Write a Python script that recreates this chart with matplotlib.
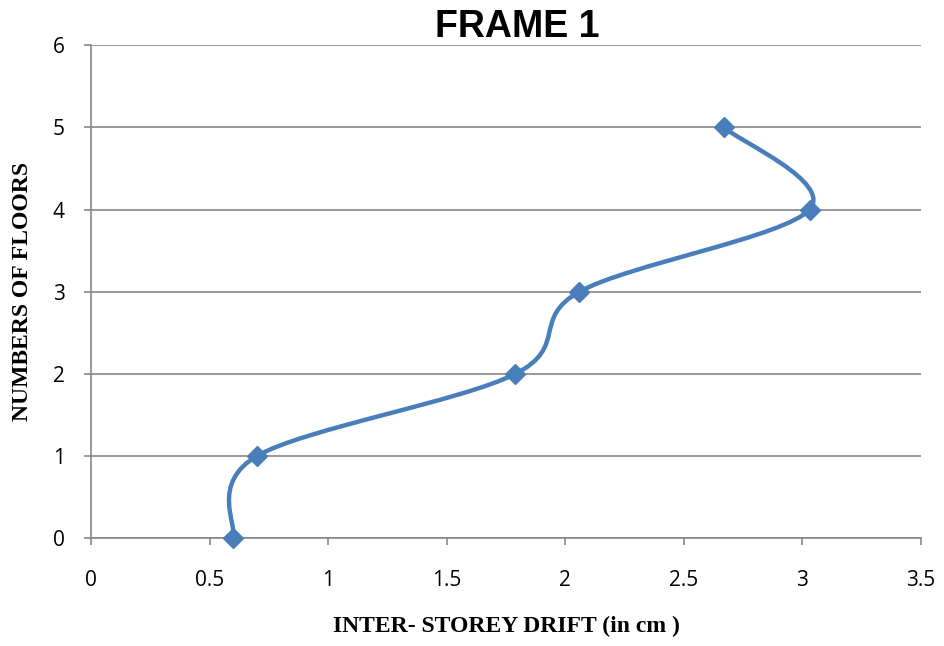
import matplotlib.pyplot as plt
from matplotlib.path import Path
from matplotlib.patches import PathPatch
import numpy as np

# inter-storey drift per floor
drift = [0.6, 0.7, 1.79, 2.06, 3.03, 2.67]
floors = [0, 1, 2, 3, 4, 5]

blue = '#4A7EBB'
grey = '#888888'

fig = plt.figure(figsize=(9.44, 6.46), dpi=100)
ax = fig.add_axes([0.0964, 0.167, 0.8792, 0.763])

# smoothed line: Catmull-Rom segments drawn as cubic Bezier curves
pts = np.column_stack([drift, floors]).astype(float)
ext = np.vstack([pts[0], pts, pts[-1]])
verts = [tuple(pts[0])]
codes = [Path.MOVETO]
for i in range(len(pts) - 1):
    p0, p1, p2, p3 = ext[i], ext[i + 1], ext[i + 2], ext[i + 3]
    c1 = p1 + (p2 - p0) / 6
    c2 = p2 - (p3 - p1) / 6
    verts += [tuple(c1), tuple(c2), tuple(p2)]
    codes += [Path.CURVE4] * 3
ax.add_patch(PathPatch(Path(verts, codes), facecolor='none',
                       edgecolor=blue, lw=3.2, capstyle='round', zorder=3))
ax.plot(drift, floors, linestyle='none', marker='D', markersize=10,
        color=blue, zorder=4, clip_on=False)

ax.set_xlim(0, 3.5)
ax.set_ylim(0, 6)
ax.set_xticks(np.arange(0, 3.51, 0.5))
ax.set_xticklabels(['0', '0.5', '1', '1.5', '2', '2.5', '3', '3.5'])
ax.set_yticks(range(7))
ax.grid(axis='y', color=grey, lw=1.2)
ax.set_axisbelow(True)
for s in ['top', 'right']:
    ax.spines[s].set_visible(False)
for s in ['left', 'bottom']:
    ax.spines[s].set_color(grey)
    ax.spines[s].set_linewidth(1.2)
ax.tick_params(axis='both', colors=grey, length=5, width=1.2,
               labelcolor='black', labelsize=15)
ax.tick_params(axis='x', pad=18)
ax.tick_params(axis='y', pad=14)
for lab in ax.get_xticklabels() + ax.get_yticklabels():
    lab.set_family('Open Sans')

ax.set_title('FRAME 1', fontsize=27, fontweight='bold',
             family='Liberation Sans', x=0.514, pad=2)
ax.set_xlabel('INTER- STOREY DRIFT (in cm )', fontsize=17, fontweight='bold',
              family='Liberation Serif', labelpad=18)
ax.set_ylabel('NUMBERS OF FLOORS', fontsize=17, fontweight='bold',
              family='Liberation Serif', labelpad=14)

fig.savefig('out.png', dpi=100)
